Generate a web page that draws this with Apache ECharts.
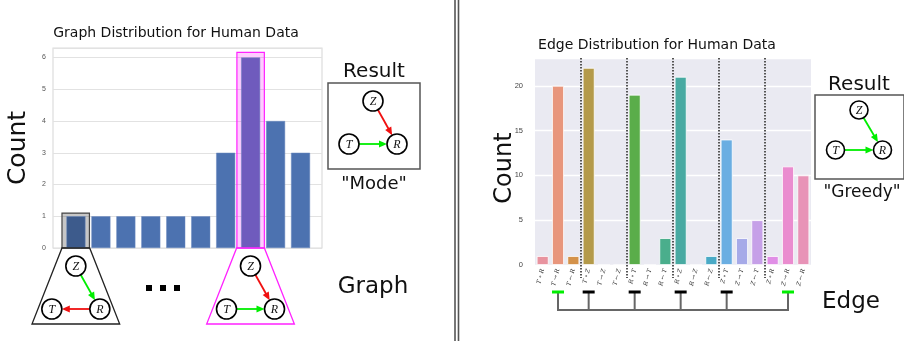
<!DOCTYPE html>
<html>
<head>
<meta charset="utf-8">
<script src="https://cdn.jsdelivr.net/npm/echarts@6/dist/echarts.min.js"></script>
<style>
  html, body { margin: 0; padding: 0; background: #fff; }
  #chart { width: 904px; height: 341px; }
</style>
</head>
<body>
<div id="chart"></div>
<script>
// ---- data ----
const graphIds = [0, 1, 2, 3, 4, 5, 6, 7, 8, 9];
const graphCounts = [1, 1, 1, 1, 1, 1, 3, 6, 4, 3];
const graphTicks = [0, 1, 2, 3, 4, 5, 6];

const edgeLabels = [
  'T ∘ R', 'T → R', 'T ← R', 'T ∘ Z', 'T → Z', 'T ← Z',
  'R ∘ T', 'R → T', 'R ← T', 'R ∘ Z', 'R → Z', 'R ← Z',
  'Z ∘ T', 'Z → T', 'Z ← T', 'Z ∘ R', 'Z → R', 'Z ← R'
];
const edgeCounts = [1, 20, 1, 22, 0, 0, 19, 0, 3, 21, 0, 1, 14, 3, 5, 1, 11, 10];
const edgeTicks = [0, 5, 10, 15, 20];
const groupBreaks = [[2, 3], [5, 6], [8, 9], [11, 12], [14, 15]];
const chosenEdges = [1, 3, 6, 9, 12, 16];       // bracket marks under the axis
const greedyEdges = [1, 16];                    // marked in green

const edgePalette = [
  '#e8939f', '#e8967c', '#d4924a', '#b49a4a', '#9aa448', '#78aa48',
  '#5aad4a', '#4aae6c', '#4aae8c', '#48aaa2', '#48aab4', '#4aaac6',
  '#6aaee2', '#a6aae8', '#c6a0e8', '#e08ee6', '#ea8ccf', '#e893b7'
];

const GREEN = '#00ee00';
const RED = '#f01010';

// small causal graph: Z on top, T bottom-left, R bottom-right
function arrow(a, b, r, color) {
  const dx = b[0] - a[0], dy = b[1] - a[1];
  const len = Math.sqrt(dx * dx + dy * dy);
  const ux = dx / len, uy = dy / len;
  const sx = a[0] + ux * r, sy = a[1] + uy * r;
  const ex = b[0] - ux * r, ey = b[1] - uy * r;
  const bx = ex - ux * 8, by = ey - uy * 8;
  return [
    { type: 'line', shape: { x1: sx, y1: sy, x2: bx + ux * 2, y2: by + uy * 2 },
      style: { stroke: color, lineWidth: 1.8 } },
    { type: 'polygon', shape: { points: [[ex, ey], [bx - uy * 3.5, by + ux * 3.5], [bx + uy * 3.5, by - ux * 3.5]] },
      style: { fill: color } }
  ];
}

function smallGraph(zx, zy, dx, dy, r, edges) {
  const pos = { Z: [zx, zy], T: [zx - dx, zy + dy], R: [zx + dx, zy + dy] };
  let els = [];
  edges.forEach(e => { els = els.concat(arrow(pos[e[0]], pos[e[1]], r, e[2])); });
  Object.keys(pos).forEach(k => {
    els.push({ type: 'circle', shape: { cx: pos[k][0], cy: pos[k][1], r: r },
      style: { fill: '#fff', stroke: '#000', lineWidth: 1.6 } });
    els.push({ type: 'text', style: { text: k, x: pos[k][0], y: pos[k][1] + 0.5,
      align: 'center', verticalAlign: 'middle', textAlign: 'center', textVerticalAlign: 'middle',
      font: 'italic 12px "Liberation Serif"', fill: '#111' } });
  });
  return els;
}

function label(text, x, y, size, rot) {
  return { type: 'text', x: x, y: y, rotation: rot || 0, z: 10,
    style: { text: text, x: 0, y: 0, align: 'center', verticalAlign: 'middle',
      textAlign: 'center', textVerticalAlign: 'middle',
      font: size + 'px "DejaVu Sans"', fill: '#111' } };
}

const chart = echarts.init(document.getElementById('chart'));

const option = {
  animation: false,
  grid: [
    { left: 53, right: 582, top: 48, bottom: 93, show: true,
      backgroundColor: '#fff', borderColor: '#dcdcdc', borderWidth: 1.2 },
    { left: 535, right: 93, top: 58, bottom: 76, show: true,
      backgroundColor: '#eaeaf2', borderWidth: 0 }
  ],
  xAxis: [
    { gridIndex: 0, type: 'value', min: -0.92, max: 9.86, show: false },
    { gridIndex: 1, type: 'category', data: edgeLabels,
      axisLine: { show: false }, axisTick: { show: false },
      axisLabel: { interval: 0, rotate: 75, fontSize: 6, color: '#333', margin: 4,
        fontStyle: 'italic', fontFamily: 'DejaVu Serif' } },
    { gridIndex: 1, type: 'value', min: 0, max: 18, show: false }
  ],
  yAxis: [
    { gridIndex: 0, type: 'value', min: 0, max: 6.3, interval: 1,
      axisLine: { show: false }, axisTick: { show: false },
      axisLabel: { fontSize: 7, color: '#555', margin: 7, showMaxLabel: false,
        formatter: v => graphTicks.includes(v) ? String(v) : '' },
      splitLine: { lineStyle: { color: '#e2e2e2', width: 1.2 } } },
    { gridIndex: 1, type: 'value', min: 0, max: 23.1, interval: 5,
      axisLine: { show: false }, axisTick: { show: false },
      axisLabel: { fontSize: 7.5, color: '#444', margin: 12, showMaxLabel: false,
        formatter: v => edgeTicks.includes(v) ? String(v) : '' },
      splitLine: { lineStyle: { color: '#fff', width: 1.3 } } }
  ],
  series: [
    {
      type: 'bar', xAxisIndex: 0, yAxisIndex: 0, barWidth: 19,
      data: graphIds.map((id, i) => ({
        value: [id, graphCounts[i]],
        itemStyle: { color: i === 0 ? '#3d5b8c' : (i === 7 ? '#6f5bbd' : '#4c72b0') }
      })),
      itemStyle: { borderColor: '#6a89bf', borderWidth: 0.5 },
      markArea: {
        silent: true,
        data: [
          [{ coord: [-0.56, 0], itemStyle: { color: 'rgba(0,0,0,0.22)', borderColor: '#444', borderWidth: 1.2 } },
           { coord: [0.54, 1.1] }],
          [{ coord: [6.45, 0], itemStyle: { color: 'rgba(255,0,255,0.2)', borderColor: '#ff22ff', borderWidth: 1.2 } },
           { coord: [7.55, 6.16] }]
        ]
      }
    },
    {
      // zoom trapezoids with the graph each highlighted bar stands for
      type: 'custom', xAxisIndex: 0, yAxisIndex: 0, clip: false, silent: true, z: 5,
      data: [[0, 0], [7, 1]],
      renderItem: (params, api) => {
        const idx = api.value(0);
        const hi = api.value(1) === 1;
        const l = api.coord([idx - 0.56, 0]);
        const r = api.coord([idx + 0.55, 0]);
        const cx = (l[0] + r[0]) / 2;
        const by = l[1] + 76;
        const color = hi ? '#ff22ff' : '#222';
        const edges = hi ? [['Z', 'R', RED], ['T', 'R', GREEN]] : [['Z', 'R', GREEN], ['R', 'T', RED]];
        return { type: 'group', children: [
          { type: 'polygon', shape: { points: [[l[0], l[1]], [r[0], r[1]], [r[0] + 30, by], [l[0] - 30, by]] },
            style: { fill: 'none', stroke: color, lineWidth: 1.3 } }
        ].concat(smallGraph(cx, l[1] + 18, 24, 43, 10, edges)) };
      }
    },
    {
      type: 'bar', xAxisIndex: 1, yAxisIndex: 1, barWidth: '78%',
      data: edgeCounts.map((v, i) => ({ value: v, itemStyle: { color: edgePalette[i] } })),
      itemStyle: { borderColor: '#fff', borderWidth: 0.8 }
    },
    {
      // dotted separators between edge groups
      type: 'custom', xAxisIndex: 1, yAxisIndex: 1, clip: false, silent: true, z: 4,
      data: groupBreaks,
      renderItem: (params, api) => {
        const a = api.coord([api.value(0), 0]);
        const b = api.coord([api.value(1), 0]);
        const top = api.coord([api.value(0), 23.1])[1];
        const x = (a[0] + b[0]) / 2;
        return { type: 'line', shape: { x1: x, y1: top, x2: x, y2: a[1] + 13 },
          style: { stroke: '#555', lineWidth: 2, lineDash: [1.5, 1.5] } };
      }
    },
    {
      // bracket marks under the chosen edges
      type: 'custom', xAxisIndex: 1, yAxisIndex: 1, clip: false, silent: true,
      data: chosenEdges.map(i => [i, 0]),
      renderItem: (params, api) => {
        const idx = api.value(0);
        const p = api.coord([idx, 0]);
        const col = greedyEdges.includes(idx) ? GREEN : '#000';
        return { type: 'group', children: [
          { type: 'line', shape: { x1: p[0], y1: p[1] + 27, x2: p[0], y2: p[1] + 45 },
            style: { stroke: '#666', lineWidth: 2 } },
          { type: 'rect', shape: { x: p[0] - 6, y: p[1] + 25.5, width: 12, height: 3 },
            style: { fill: col } }
        ] };
      }
    },
    {
      type: 'custom', xAxisIndex: 1, yAxisIndex: 1, clip: false, silent: true,
      data: [[chosenEdges[0], 0]],
      renderItem: (params, api) => {
        const a = api.coord([chosenEdges[0], 0]);
        const b = api.coord([chosenEdges[chosenEdges.length - 1], 0]);
        return { type: 'line', shape: { x1: a[0] - 1, y1: a[1] + 45, x2: b[0] + 1, y2: a[1] + 45 },
          style: { stroke: '#666', lineWidth: 2 } };
      }
    }
  ],
  graphic: [
    label('Graph Distribution for Human Data', 176, 33, 14),
    label('Count', 18, 148, 25, Math.PI / 2),
    label('Result', 374, 72, 20),
    { type: 'rect', shape: { x: 328, y: 83, width: 92, height: 86 },
      style: { fill: '#fff', stroke: '#555', lineWidth: 1.5 } },
    { type: 'group', children: smallGraph(373, 101, 24, 43, 10, [['Z', 'R', RED], ['T', 'R', GREEN]]) },
    label('"Mode"', 374, 184, 18),
    label('Graph', 373, 287, 23),
    { type: 'rect', shape: { x: 146, y: 285, width: 6, height: 6 }, style: { fill: '#000' } },
    { type: 'rect', shape: { x: 160, y: 285, width: 6, height: 6 }, style: { fill: '#000' } },
    { type: 'rect', shape: { x: 174, y: 285, width: 6, height: 6 }, style: { fill: '#000' } },
    { type: 'line', shape: { x1: 455, y1: 0, x2: 455, y2: 341 }, style: { stroke: '#555', lineWidth: 1.6 } },
    { type: 'line', shape: { x1: 458.5, y1: 0, x2: 458.5, y2: 341 }, style: { stroke: '#555', lineWidth: 1.6 } },
    label('Edge Distribution for Human Data', 657, 45, 14),
    label('Count', 505, 168, 24, Math.PI / 2),
    label('Result', 859, 85, 20),
    { type: 'rect', shape: { x: 815, y: 95, width: 89, height: 84 },
      style: { fill: '#fff', stroke: '#555', lineWidth: 1.5 } },
    { type: 'group', children: smallGraph(859, 110, 23.5, 40, 9, [['Z', 'R', GREEN], ['T', 'R', GREEN]]) },
    label('"Greedy"', 862, 193, 17),
    label('Edge', 851, 302, 23)
  ]
};

chart.setOption(option);
window.addEventListener('resize', () => chart.resize());
</script>
</body>
</html>
